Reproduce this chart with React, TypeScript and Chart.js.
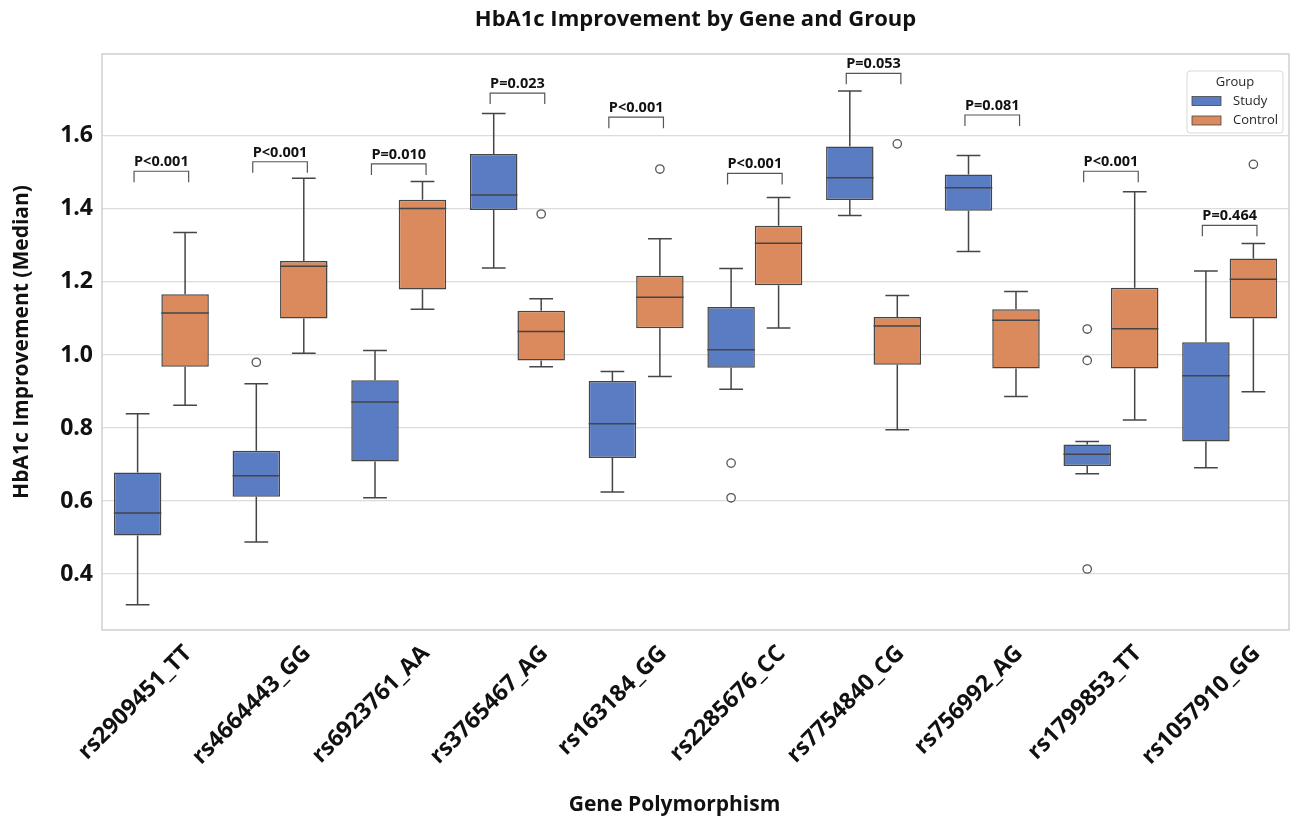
import React, { useEffect, useRef } from "react";
import { Chart, registerables } from "chart.js";

Chart.register(...registerables);

const categories = [
  "rs2909451_TT", "rs4664443_GG", "rs6923761_AA", "rs3765467_AG", "rs163184_GG",
  "rs2285676_CC", "rs7754840_CG", "rs756992_AG", "rs1799853_TT", "rs1057910_GG",
];

// Study group box statistics
const studyLow = [0.316, 0.488, 0.609, 1.238, 0.625, 0.906, 1.382, 1.283, 0.675, 0.691];
const studyQ1 = [0.506, 0.612, 0.708, 1.397, 0.718, 0.965, 1.424, 1.395, 0.696, 0.763];
const studyMedian = [0.567, 0.669, 0.871, 1.438, 0.812, 1.014, 1.485, 1.458, 0.728, 0.943];
const studyQ3 = [0.678, 0.738, 0.931, 1.55, 0.929, 1.131, 1.571, 1.494, 0.755, 1.035];
const studyHigh = [0.839, 0.921, 1.012, 1.661, 0.955, 1.237, 1.723, 1.546, 0.763, 1.23];
const studyOutliers = [[], [0.98], [], [], [], [0.704, 0.609], [], [], [1.071, 0.985, 0.414], []];

// Control group box statistics
const controlLow = [0.862, 1.005, 1.125, 0.968, 0.941, 1.074, 0.795, 0.886, 0.822, 0.899];
const controlQ1 = [0.968, 1.1, 1.179, 0.985, 1.073, 1.191, 0.973, 0.963, 0.963, 1.1];
const controlMedian = [1.115, 1.243, 1.401, 1.064, 1.158, 1.306, 1.079, 1.095, 1.072, 1.207];
const controlQ3 = [1.166, 1.257, 1.425, 1.121, 1.217, 1.354, 1.104, 1.125, 1.184, 1.264];
const controlHigh = [1.335, 1.484, 1.475, 1.154, 1.318, 1.431, 1.163, 1.174, 1.447, 1.305];
const controlOutliers = [[], [], [], [1.386], [1.509], [], [1.578], [], [], [1.522]];

// Significance annotations
const pLabels = ["P<0.001", "P<0.001", "P=0.010", "P=0.023", "P<0.001", "P<0.001", "P=0.053", "P=0.081", "P<0.001", "P=0.464"];
const bracketHeights = [1.503, 1.529, 1.523, 1.717, 1.651, 1.497, 1.771, 1.657, 1.503, 1.355];

const yTicks = [0.4, 0.6, 0.8, 1.0, 1.2, 1.4, 1.6];
const groupNames = ["Study", "Control"];
const xTitle = "Gene Polymorphism";

const STUDY_COLOR = "#5a7cc2";
const CONTROL_COLOR = "#db8a5d";
const LINE_COLOR = "#454545";
const FONT = "'Open Sans', 'DejaVu Sans', sans-serif";

const boxPlugin = {
  id: "boxExtras",
  afterDatasetsDraw(chart: any) {
    const ctx = chart.ctx;
    const y = chart.scales.y;
    const x = chart.scales.x;
    const stats = [
      { low: studyLow, med: studyMedian, high: studyHigh, q1: studyQ1, q3: studyQ3, out: studyOutliers },
      { low: controlLow, med: controlMedian, high: controlHigh, q1: controlQ1, q3: controlQ3, out: controlOutliers },
    ];
    ctx.save();
    const area = chart.chartArea;
    ctx.beginPath();
    ctx.rect(area.left, area.top, area.right - area.left, area.bottom - area.top);
    ctx.clip();
    stats.forEach((s, di) => {
      const meta = chart.getDatasetMeta(di);
      meta.data.forEach((el: any, j: number) => {
        const cx = el.x;
        const w = el.width;
        ctx.strokeStyle = LINE_COLOR;
        ctx.lineWidth = 1.5;
        ctx.beginPath();
        ctx.moveTo(cx, y.getPixelForValue(s.q3[j]));
        ctx.lineTo(cx, y.getPixelForValue(s.high[j]));
        ctx.moveTo(cx, y.getPixelForValue(s.q1[j]));
        ctx.lineTo(cx, y.getPixelForValue(s.low[j]));
        const hw = w / 4;
        ctx.moveTo(cx - hw, y.getPixelForValue(s.high[j]));
        ctx.lineTo(cx + hw, y.getPixelForValue(s.high[j]));
        ctx.moveTo(cx - hw, y.getPixelForValue(s.low[j]));
        ctx.lineTo(cx + hw, y.getPixelForValue(s.low[j]));
        ctx.stroke();
        ctx.beginPath();
        ctx.moveTo(cx - w / 2, y.getPixelForValue(s.med[j]));
        ctx.lineTo(cx + w / 2, y.getPixelForValue(s.med[j]));
        ctx.stroke();
        ctx.lineWidth = 1.3;
        ctx.strokeStyle = "#555555";
        s.out[j].forEach((v: number) => {
          ctx.beginPath();
          ctx.arc(cx, y.getPixelForValue(v), 4.2, 0, Math.PI * 2);
          ctx.fillStyle = "#ffffff";
          ctx.fill();
          ctx.stroke();
        });
      });
    });
    ctx.restore();

    ctx.save();
    const catW = (area.right - area.left) / categories.length;
    ctx.strokeStyle = "#555555";
    ctx.lineWidth = 1.2;
    ctx.fillStyle = "#111111";
    ctx.font = `bold 14.5px ${FONT}`;
    ctx.textAlign = "center";
    ctx.textBaseline = "alphabetic";
    categories.forEach((_c, j) => {
      const cx = x.getPixelForValue(j);
      const by = y.getPixelForValue(bracketHeights[j]);
      const x1 = cx - catW * 0.23;
      const x2 = cx + catW * 0.23;
      ctx.beginPath();
      ctx.moveTo(x1, by + 11);
      ctx.lineTo(x1, by);
      ctx.lineTo(x2, by);
      ctx.lineTo(x2, by + 11);
      ctx.stroke();
      ctx.fillText(pLabels[j], cx, by - 5);
    });
    ctx.restore();
  },
  afterDraw(chart: any) {
    const ctx = chart.ctx;
    const area = chart.chartArea;
    ctx.save();
    ctx.strokeStyle = "#cfcfcf";
    ctx.lineWidth = 1.5;
    ctx.strokeRect(area.left, area.top, area.right - area.left, area.bottom - area.top);
    // x-axis title
    ctx.fillStyle = "#111111";
    ctx.font = `bold 21px ${FONT}`;
    ctx.textAlign = "center";
    ctx.textBaseline = "middle";
    ctx.fillText(xTitle, (area.left + area.right) / 2 - 21, 805);
    // legend
    const lw = 96;
    const lh = 62;
    const lx = area.right - 6 - lw;
    const ly = area.top + 17;
    ctx.fillStyle = "rgba(255,255,255,0.85)";
    ctx.strokeStyle = "#d9d9d9";
    ctx.lineWidth = 1;
    ctx.beginPath();
    (ctx as any).roundRect(lx, ly, lw, lh, 3);
    ctx.fill();
    ctx.stroke();
    ctx.fillStyle = "#262626";
    ctx.font = `13px ${FONT}`;
    ctx.textAlign = "center";
    ctx.textBaseline = "middle";
    ctx.fillText("Group", lx + lw / 2, ly + 11);
    const colors = [STUDY_COLOR, CONTROL_COLOR];
    groupNames.forEach((g, i) => {
      const ry = ly + 30 + i * 19.5;
      ctx.fillStyle = colors[i];
      ctx.fillRect(lx + 5, ry - 4.5, 29, 9);
      ctx.strokeStyle = LINE_COLOR;
      ctx.lineWidth = 0.8;
      ctx.strokeRect(lx + 5, ry - 4.5, 29, 9);
      ctx.fillStyle = "#262626";
      ctx.textAlign = "left";
      ctx.fillText(g, lx + 46, ry);
    });
    ctx.restore();
  },
};

export default function App() {
  const ref = useRef<HTMLCanvasElement | null>(null);
  useEffect(() => {
    if (!ref.current) return;
    const chart = new Chart(ref.current, {
      type: "bar",
      data: {
        labels: categories,
        datasets: [
          {
            label: groupNames[0],
            data: studyQ1.map((q, i) => [q, studyQ3[i]]),
            backgroundColor: STUDY_COLOR,
            borderColor: LINE_COLOR,
            borderWidth: 1.5,
            borderSkipped: false,
            categoryPercentage: 0.8,
            barPercentage: 1.0,
          },
          {
            label: groupNames[1],
            data: controlQ1.map((q, i) => [q, controlQ3[i]]),
            backgroundColor: CONTROL_COLOR,
            borderColor: LINE_COLOR,
            borderWidth: 1.5,
            borderSkipped: false,
            categoryPercentage: 0.8,
            barPercentage: 1.0,
          },
        ] as any,
      },
      options: {
        responsive: false,
        animation: false,
        maintainAspectRatio: false,
        layout: { padding: { left: 0, right: 8, top: 0, bottom: 0 } },
        plugins: {
          legend: { display: false },
          tooltip: { enabled: false },
          title: {
            display: true,
            text: "HbA1c Improvement by Gene and Group",
            fullSize: false,
            color: "#111111",
            font: { family: FONT, size: 22, weight: "bold", lineHeight: 1.2 },
            padding: { top: 7, bottom: 20.6 },
          },
        },
        scales: {
          x: {
            type: "category",
            grid: { display: false },
            border: { display: false },
            afterFit(scale: any) {
              scale.height = 191;
            },
            ticks: {
              color: "#111111",
              font: { family: FONT, size: 23, weight: "bold" },
              minRotation: 45,
              maxRotation: 45,
              padding: 2,
              labelOffset: 27,
            },
            title: { display: false },
          },
          y: {
            type: "linear",
            min: 0.247,
            max: 1.824,
            afterFit(scale: any) {
              scale.width = 102;
            },
            afterBuildTicks(scale: any) {
              scale.ticks = yTicks.map((v) => ({ value: v }));
            },
            grid: { color: "#dcdcdc", lineWidth: 1.3, drawTicks: false },
            border: { display: false },
            ticks: {
              color: "#111111",
              font: { family: FONT, size: 23, weight: "bold" },
              padding: 9,
              callback: (v: any) => Number(v).toFixed(1),
            },
            title: {
              display: true,
              text: "HbA1c Improvement (Median)",
              color: "#111111",
              font: { family: FONT, size: 21, weight: "bold", lineHeight: 1.2 },
              padding: { top: 9, bottom: 0 },
            },
          },
        },
      } as any,
      plugins: [boxPlugin],
    });
    return () => chart.destroy();
  }, []);
  return (
    <div style={{ position: "fixed", left: 0, top: 0, width: 1297, height: 821, background: "#ffffff" }}>
      <canvas ref={ref} width={1297} height={821} style={{ width: 1297, height: 821, display: "block" }} />
    </div>
  );
}
